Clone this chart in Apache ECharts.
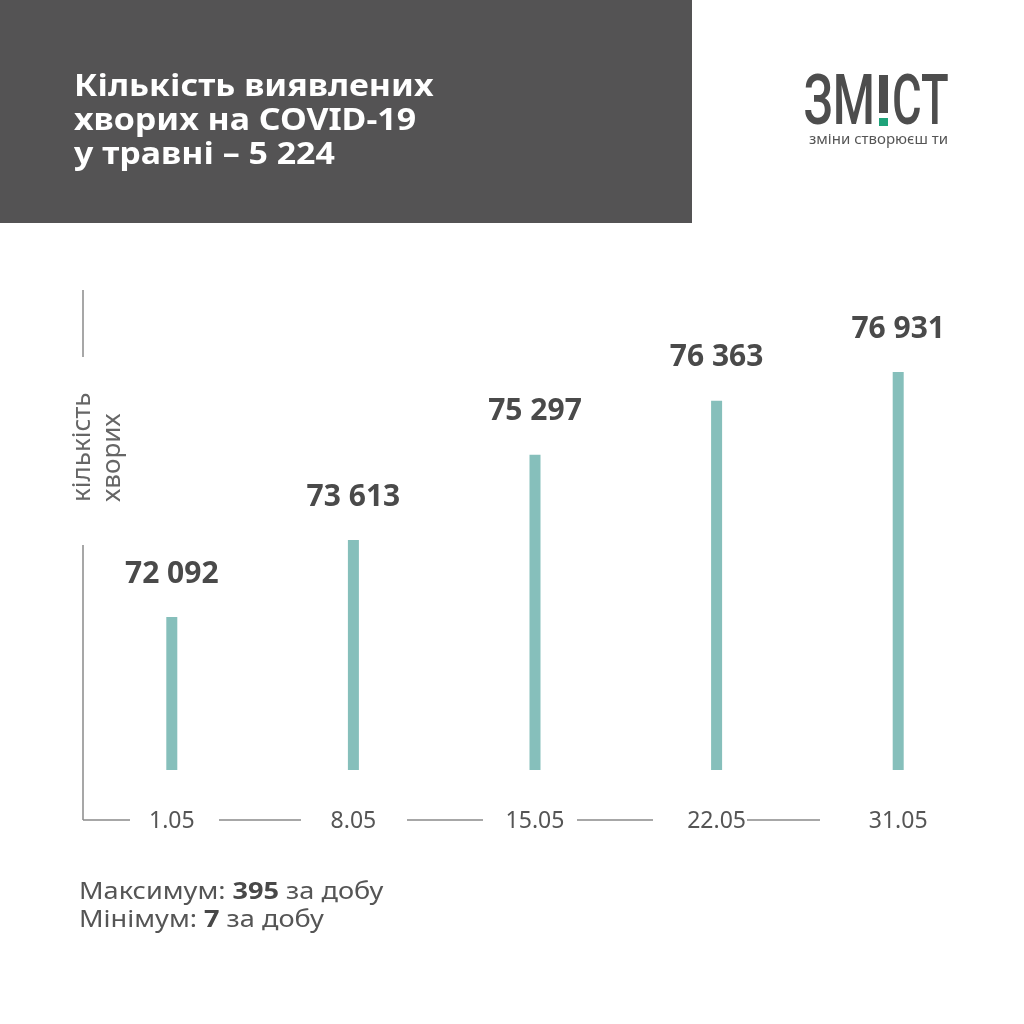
<!DOCTYPE html>
<html>
<head>
<meta charset="utf-8">
<title>COVID-19 травень</title>
<script src="https://cdn.jsdelivr.net/npm/echarts@6/dist/echarts.min.js"></script>
<style>
  html, body { margin: 0; padding: 0; background: #fff; }
  #chart { width: 1024px; height: 1024px; }
</style>
</head>
<body>
<div id="chart"></div>
<script>
// дані
const dates = ['1.05', '8.05', '15.05', '22.05', '31.05'];
const cases = [72092, 73613, 75297, 76363, 76931];
const titleLines = ['Кількість виявлених', 'хворих на COVID-19', 'у травні – 5 224'];
const maxPerDay = 395;
const minPerDay = 7;

const font = '"Noto Sans", "Open Sans", sans-serif';
const gray = '#555555';
const lineColor = '#8a8a8a';

function fmt(v) {
  return String(v).replace(/\B(?=(\d{3})+(?!\d))/g, ' ');
}

const myChart = echarts.init(document.getElementById('chart'));

// декоративна вісь X з розривами під підписами
const xSegments = [[83, 130], [219, 301], [407, 483], [577, 653], [747, 820]];
const axisLines = xSegments.map(s => ({
  type: 'line',
  shape: { x1: s[0], y1: 820, x2: s[1], y2: 820 },
  style: { stroke: lineColor, lineWidth: 1.5 }
}));
// вертикальна лінія з розривом під назвою осі
axisLines.push(
  { type: 'line', shape: { x1: 83, y1: 290, x2: 83, y2: 357 }, style: { stroke: lineColor, lineWidth: 1.5 } },
  { type: 'line', shape: { x1: 83, y1: 545, x2: 83, y2: 820 }, style: { stroke: lineColor, lineWidth: 1.5 } }
);

function summary(label, value, y) {
  return {
    type: 'text', x: 79, y: y, scaleX: 1.13,
    style: {
      text: '{n|' + label + ' }{b|' + value + '}{n| за добу}',
      x: 0, y: 0,
      align: 'left', verticalAlign: 'middle',
      rich: {
        n: { fontFamily: font, fontSize: 24, fill: gray },
        b: { fontFamily: font, fontSize: 24, fontWeight: 'bold', fill: '#484848' }
      }
    }
  };
}

const option = {
  animation: false,
  backgroundColor: '#ffffff',
  grid: { left: 81, right: 35, top: 290, bottom: 254 },
  xAxis: {
    type: 'category',
    data: dates,
    axisLine: { show: false },
    axisTick: { show: false },
    axisLabel: {
      margin: 51,
      verticalAlign: 'middle',
      fontFamily: font,
      fontSize: 23,
      color: gray
    }
  },
  yAxis: {
    type: 'value',
    min: 69070,
    max: 78550,
    show: false
  },
  series: [
    {
      type: 'bar',
      data: cases,
      barWidth: 11,
      itemStyle: { color: '#86bfbb' },
      label: {
        show: true,
        position: 'top',
        distance: 28,
        formatter: p => fmt(p.value),
        fontFamily: font,
        fontWeight: 'bold',
        fontSize: 30,
        color: '#4a4a4a'
      }
    }
  ],
  graphic: [
    // шапка
    { type: 'rect', shape: { x: 0, y: 0, width: 692, height: 223 }, style: { fill: '#545354' } },
    ...titleLines.map((t, i) => ({
      type: 'text',
      x: 74, y: 72 + i * 34, scaleX: 1.13,
      style: {
        text: t, x: 0, y: 0, fill: '#ffffff', fontFamily: font, fontWeight: 'bold', fontSize: 30,
        align: 'left', verticalAlign: 'top'
      }
    })),
    // логотип
    {
      type: 'text', x: 875, y: 71, scaleX: 0.68,
      style: { text: 'ЗМ', x: 0, y: 0, fill: '#4d4d4d', fontFamily: 'Roboto, sans-serif', fontWeight: 500, fontSize: 71, align: 'right', verticalAlign: 'top' }
    },
    { type: 'rect', shape: { x: 879, y: 75, width: 9, height: 38 }, style: { fill: '#4d4d4d' } },
    { type: 'rect', shape: { x: 879, y: 118, width: 9, height: 8 }, style: { fill: '#1fa37a' } },
    {
      type: 'text', x: 892, y: 71, scaleX: 0.64,
      style: { text: 'СТ', x: 0, y: 0, fill: '#4d4d4d', fontFamily: 'Roboto, sans-serif', fontWeight: 500, fontSize: 71, align: 'left', verticalAlign: 'top' }
    },
    {
      type: 'text', x: 809, y: 140,
      style: { text: 'зміни створюєш ти', fill: '#555555', fontFamily: font, fontSize: 15, align: 'left', verticalAlign: 'middle' }
    },
    // назва осі Y
    {
      type: 'text', x: 83, y: 502, rotation: Math.PI / 2,
      style: { text: 'кількість', x: 0, y: 0, fill: '#666666', fontFamily: font, fontSize: 26, align: 'left', verticalAlign: 'middle' }
    },
    {
      type: 'text', x: 113, y: 502, rotation: Math.PI / 2,
      style: { text: 'хворих', x: 0, y: 0, fill: '#666666', fontFamily: font, fontSize: 26, align: 'left', verticalAlign: 'middle' }
    },
    ...axisLines,
    // підсумок
    summary('Максимум:', maxPerDay, 892),
    summary('Мінімум:', minPerDay, 920)
  ]
};

myChart.setOption(option);
</script>
</body>
</html>
